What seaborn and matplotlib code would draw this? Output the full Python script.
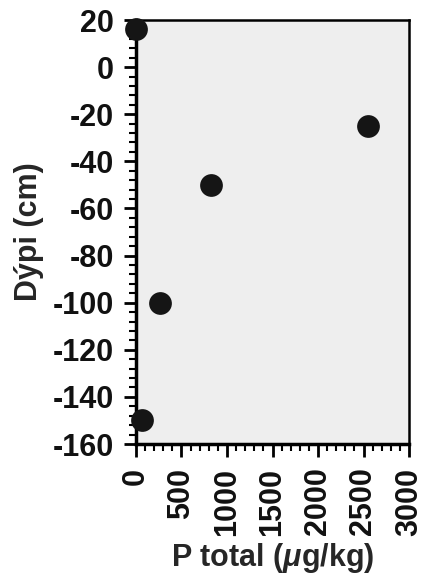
import matplotlib
matplotlib.use("Agg")
import matplotlib.pyplot as plt
import seaborn as sns
import pandas as pd
from matplotlib.ticker import MultipleLocator

p_total = [0, 70, 260, 820, 2550]
depth = [16, -150, -100, -50, -25]

df = pd.DataFrame({"P": p_total, "D": depth})

sns.set_style("ticks")
plt.rcParams['font.family'] = ['Liberation Sans', 'DejaVu Sans']
plt.rcParams['axes.unicode_minus'] = False
plt.rcParams['mathtext.fontset'] = 'custom'
plt.rcParams['mathtext.it'] = 'Liberation Sans:italic:bold'
plt.rcParams['mathtext.rm'] = 'Liberation Sans:bold'

fig = plt.figure(figsize=(4.31, 5.85), dpi=100)
ax = fig.add_axes([136/431, 1 - 444/585, 273/431, 424/585])
ax.set_facecolor('#eeeeee')
sns.scatterplot(data=df, x="P", y="D", ax=ax, s=230, color='#151515', edgecolor='#151515', clip_on=False, zorder=5)

ax.set_xlim(0, 3000)
ax.set_ylim(-160, 20)
ax.xaxis.set_major_locator(MultipleLocator(500))
ax.xaxis.set_minor_locator(MultipleLocator(100))
ax.yaxis.set_major_locator(MultipleLocator(20))
ax.yaxis.set_minor_locator(MultipleLocator(4))
ax.tick_params(axis='both', which='major', length=9, width=2, labelsize=22, color='black', labelcolor='#111111')
ax.tick_params(axis='y', which='major', pad=7)
ax.tick_params(axis='x', which='major', pad=8)
ax.tick_params(axis='both', which='minor', length=5, width=1.5, color='black')
for lbl in ax.get_xticklabels() + ax.get_yticklabels():
    lbl.set_fontweight('bold')
for lbl in ax.get_xticklabels():
    lbl.set_rotation(90)
for side in ['left', 'bottom']:
    ax.spines[side].set_linewidth(2.5)
for side in ['top', 'right']:
    ax.spines[side].set_visible(True)
    ax.spines[side].set_linewidth(1.8)
for s in ax.spines.values():
    s.set_color('black')

ax.set_xlabel("P total ($\\mu$g/kg)", fontsize=22, fontweight='bold', labelpad=4)
ax.set_ylabel("Dýpi (cm)", fontsize=22, fontweight='bold', labelpad=6)

fig.savefig("out.png", dpi=100, facecolor='white')
